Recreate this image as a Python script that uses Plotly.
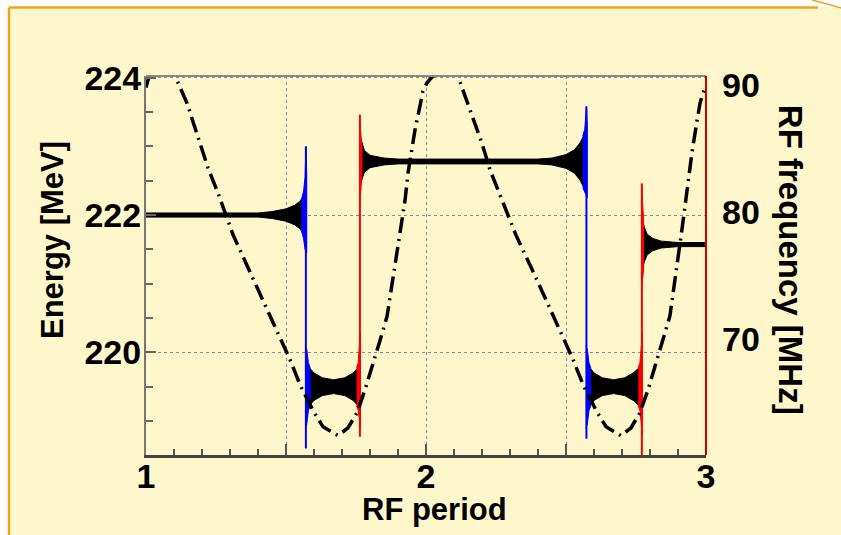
import plotly.graph_objects as go

# ---------------- data ----------------
# RF frequency curve (dash-dot), right axis [MHz]
rf_x = [1.000, 1.011, 1.050, 1.104, 1.146, 1.182, 1.221, 1.257, 1.311, 1.371, 1.486, 1.514,
        1.550, 1.596, 1.632, 1.686, 1.721, 1.754, 1.782, 1.811, 1.836, 1.861, 1.925, 1.936,
        1.950, 1.961, 1.989, 2.004, 2.025, 2.070, 2.114, 2.132, 2.157, 2.182, 2.200, 2.229,
        2.321, 2.389, 2.496, 2.525, 2.561, 2.607, 2.643, 2.696, 2.732, 2.764, 2.793, 2.821,
        2.846, 2.871, 2.914, 2.932, 2.950, 2.968, 2.979, 2.996, 3.000]
rf_f = [89.8, 90.7, 93.0, 90.7, 88.6, 86.2, 83.5, 81.5, 78.2, 75.3, 69.8, 68.4,
        66.4, 64.4, 63.1, 62.4, 63.0, 64.2, 66.0, 68.0, 69.9, 71.8, 80.9, 83.1,
        84.9, 86.5, 89.5, 90.2, 90.7, 93.0, 90.7, 89.6, 88.0, 86.5, 85.4, 83.3,
        78.2, 75.0, 69.8, 68.4, 66.4, 64.4, 63.1, 62.4, 63.0, 64.2, 66.0, 68.0,
        69.9, 71.8, 78.6, 81.7, 84.7, 87.2, 88.6, 89.8, 89.9]

# Energy bands (black): centre [MeV], x positions, half-width of the envelope [MeV]
band_centres = [222.0, 219.5, 222.78, 219.5, 221.57]
band1_x = [1.0, 1.40, 1.45, 1.50, 1.53, 1.55, 1.562]
band1_hw = [0.03, 0.03, 0.05, 0.09, 0.14, 0.20, 0.28]
band2_x = [1.576, 1.585, 1.60, 1.63, 1.67, 1.71, 1.74, 1.752, 1.762]
band2_hw = [0.30, 0.27, 0.20, 0.13, 0.10, 0.13, 0.20, 0.26, 0.30]
band3_x = [1.766, 1.772, 1.78, 1.80, 1.85, 1.90, 2.40, 2.45, 2.50, 2.53, 2.55, 2.566]
band3_hw = [0.35, 0.25, 0.16, 0.09, 0.05, 0.035, 0.035, 0.05, 0.10, 0.17, 0.27, 0.40]
band4_x = [2.578, 2.587, 2.60, 2.63, 2.67, 2.71, 2.74, 2.757, 2.768]
band4_hw = [0.30, 0.27, 0.20, 0.13, 0.10, 0.13, 0.20, 0.26, 0.30]
band5_x = [2.773, 2.78, 2.79, 2.81, 2.84, 2.90, 3.0]
band5_hw = [0.35, 0.25, 0.15, 0.09, 0.05, 0.03, 0.03]

# Transition spikes: x, lowest and highest energy, colour
spike_x = [1.571, 1.764, 2.573, 2.771]
spike_lo = [218.6, 218.77, 218.74, 218.5]
spike_hi = [223.0, 223.46, 223.58, 222.46]
spike_col = ["#0000ff", "#ff0000", "#0000ff", "#ff0000"]

# Coloured lobes around the spikes (outline polygons)
lobeA1_x = [1.555, 1.563, 1.568, 1.571, 1.574, 1.574, 1.568, 1.563, 1.555]
lobeA1_y = [222.22, 222.35, 222.55, 223.0, 222.6, 221.45, 221.5, 221.65, 221.78]
lobeA2_x = [1.569, 1.574, 1.580, 1.586, 1.586, 1.580, 1.574, 1.569]
lobeA2_y = [220.1, 220.05, 219.85, 219.78, 219.22, 219.15, 218.95, 218.9]
lobeB1_x = [1.752, 1.758, 1.762, 1.766, 1.766, 1.762, 1.758, 1.752]
lobeB1_y = [219.78, 219.85, 220.1, 220.3, 218.9, 219.05, 219.15, 219.22]
lobeB2_x = [1.762, 1.766, 1.771, 1.771, 1.766, 1.762]
lobeB2_y = [223.46, 223.2, 223.0, 222.55, 222.35, 222.1]
lobeC1_x = [2.560, 2.567, 2.573, 2.576, 2.576, 2.567, 2.560]
lobeC1_y = [223.15, 223.25, 223.58, 223.3, 222.25, 222.35, 222.4]
lobeC2_x = [2.571, 2.576, 2.582, 2.588, 2.588, 2.582, 2.576, 2.571]
lobeC2_y = [220.1, 220.05, 219.85, 219.78, 219.22, 219.15, 218.95, 218.9]
lobeD1_x = [2.758, 2.764, 2.769, 2.773, 2.773, 2.769, 2.764, 2.758]
lobeD1_y = [219.78, 219.85, 220.1, 220.3, 218.8, 219.0, 219.15, 219.22]
lobeD2_x = [2.769, 2.773, 2.777, 2.777, 2.773, 2.769]
lobeD2_y = [222.46, 222.1, 221.95, 221.2, 221.05, 220.9]

x_ticks = [1, 1.5, 2, 2.5, 3]
x_ticktext = ["1", "", "2", "", "3"]
y_ticks = [220, 222, 224]
y2_ticks = [70, 80, 90]

# ---------------- figure ----------------
BG = "#fff7cc"
FONT = "Liberation Sans, Arial, Helvetica, sans-serif"

fig = go.Figure()

def band_poly(xs, hw, c):
    px = list(xs) + list(reversed(xs))
    py = [c + h for h in hw] + [c - h for h in reversed(hw)]
    return px, py

bands = [(band1_x, band1_hw), (band2_x, band2_hw), (band3_x, band3_hw),
         (band4_x, band4_hw), (band5_x, band5_hw)]
for (bx, bh), c in zip(bands, band_centres):
    px, py = band_poly(bx, bh, c)
    fig.add_trace(go.Scatter(x=px, y=py, mode="lines", fill="toself",
                             fillcolor="black", line=dict(color="black", width=1),
                             hoverinfo="skip", showlegend=False))

lobes = [(lobeA1_x, lobeA1_y, 0), (lobeA2_x, lobeA2_y, 0), (lobeB1_x, lobeB1_y, 1),
         (lobeB2_x, lobeB2_y, 1), (lobeC1_x, lobeC1_y, 2), (lobeC2_x, lobeC2_y, 2),
         (lobeD1_x, lobeD1_y, 3), (lobeD2_x, lobeD2_y, 3)]
for lx, ly, k in lobes:
    fig.add_trace(go.Scatter(x=lx, y=ly, mode="lines", fill="toself",
                             fillcolor=spike_col[k], line=dict(color=spike_col[k], width=1),
                             hoverinfo="skip", showlegend=False))

for sx, lo, hi, col in zip(spike_x, spike_lo, spike_hi, spike_col):
    fig.add_trace(go.Scatter(x=[sx, sx], y=[lo, hi], mode="lines",
                             line=dict(color=col, width=2),
                             hoverinfo="skip", showlegend=False))

fig.add_trace(go.Scatter(x=rf_x, y=rf_f, yaxis="y2", mode="lines",
                         line=dict(color="black", width=3.5, dash="16px,6px,2px,6px"),
                         hoverinfo="skip", showlegend=False))

tickfont = dict(family=FONT, size=34, color="black", weight="bold")
titlefont = dict(family=FONT, size=31, color="black", weight="bold")

fig.update_layout(
    width=841, height=535,
    margin=dict(l=146, r=135, t=76, b=80),
    paper_bgcolor=BG, plot_bgcolor=BG,
    xaxis=dict(range=[1, 3], tickmode="array", tickvals=x_ticks, ticktext=x_ticktext,
               ticks="inside", ticklen=11, tickwidth=2, tickcolor="#555555",
               minor=dict(tickmode="linear", tick0=1, dtick=0.1, ticks="inside",
                          ticklen=6, tickwidth=2, tickcolor="#555555", showgrid=False),
               showgrid=True, gridcolor="#8a8a8a", griddash="dot", gridwidth=1,
               showline=True, linecolor="#444444", linewidth=2.5,
               zeroline=False, tickfont=tickfont, ticklabelstandoff=-11),
    yaxis=dict(range=[218.505, 224.025], tickmode="array", tickvals=y_ticks,
               ticks="inside", ticklen=10, tickwidth=2, tickcolor="#666666",
               minor=dict(tickmode="linear", tick0=218.5, dtick=0.5, ticks="inside",
                          ticklen=7, tickwidth=2, tickcolor="#666666", showgrid=False),
               showgrid=True, gridcolor="#8a8a8a", griddash="dot", gridwidth=1,
               showline=True, linecolor="#777777", linewidth=2,
               zeroline=False, tickfont=tickfont, ticklabelstandoff=-4),
    yaxis2=dict(range=[60.87, 90.71], overlaying="y", side="right",
                tickmode="array", tickvals=y2_ticks, ticks="", showgrid=False,
                showline=False, zeroline=False, tickfont=tickfont, ticklabelstandoff=15),
    annotations=[
        dict(text="Energy [MeV]", x=-0.168, y=0.567, xref="paper", yref="paper",
             textangle=-90, showarrow=False, font=titlefont, xanchor="center", yanchor="middle"),
        dict(text="RF frequency [MHz]", x=1.15, y=0.515, xref="paper", yref="paper",
             textangle=90, showarrow=False, font=dict(family=FONT, size=33, color="black", weight="bold"),
             xanchor="center", yanchor="middle"),
        dict(text="RF period", x=0.516, y=-0.145, xref="paper", yref="paper",
             showarrow=False, font=titlefont, xanchor="center", yanchor="middle"),
    ],
)

# frame: top (grey) and right (red)
fig.add_shape(type="line", xref="paper", yref="paper", x0=0, x1=1, y0=1, y1=1,
              line=dict(color="#888888", width=2))
fig.add_shape(type="line", xref="paper", yref="paper", x0=1, x1=1, y0=0, y1=1,
              line=dict(color="#cc0000", width=2))

# slide decoration: white strips and orange border
def px2x(p):
    return (p - 146) / 560.0

def py2y(p):
    return (455 - p) / 379.0

fig.add_shape(type="rect", xref="paper", yref="paper", x0=px2x(0), x1=px2x(841),
              y0=py2y(7), y1=py2y(0), fillcolor="white", line=dict(width=0), layer="below")
fig.add_shape(type="rect", xref="paper", yref="paper", x0=px2x(0), x1=px2x(9),
              y0=py2y(535), y1=py2y(0), fillcolor="white", line=dict(width=0), layer="below")
fig.add_shape(type="line", xref="paper", yref="paper", x0=px2x(9), x1=px2x(818),
              y0=py2y(7.5), y1=py2y(7.5), line=dict(color="#f0a418", width=2.5))
fig.add_shape(type="line", xref="paper", yref="paper", x0=px2x(9), x1=px2x(9),
              y0=py2y(7.5), y1=py2y(535), line=dict(color="#f0a418", width=2.5))
fig.add_shape(type="path", xref="paper", yref="paper",
              path=f"M {px2x(812)} {py2y(0)} Q {px2x(828)} {py2y(4)} {px2x(841)} {py2y(8)}",
              line=dict(color="#f0a418", width=1.5))

fig.write_html("out.html")
